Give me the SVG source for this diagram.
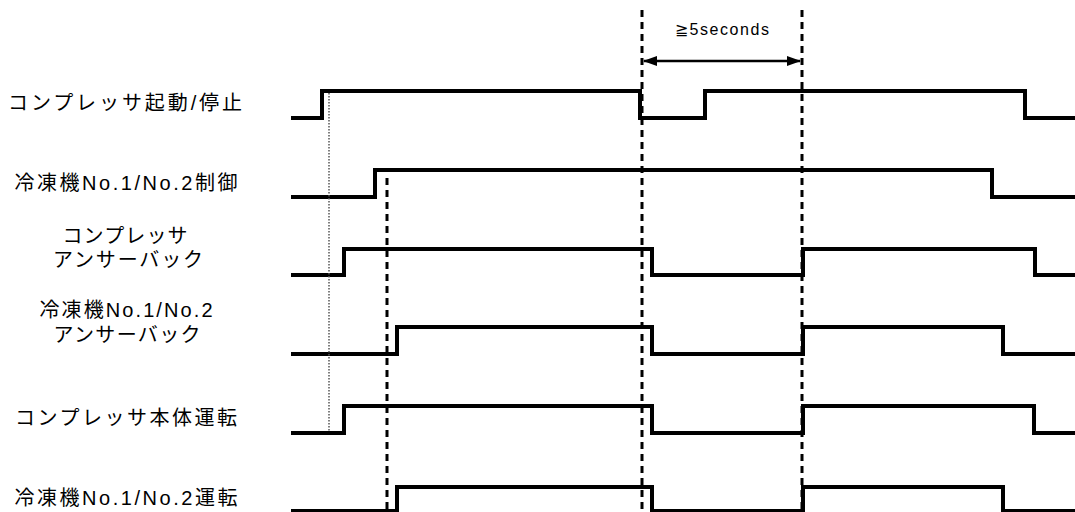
<svg xmlns="http://www.w3.org/2000/svg" width="1075" height="512" viewBox="0 0 1075 512">
<defs>
<style>
.sig{fill:none;stroke:#000;stroke-width:4;stroke-linejoin:miter;stroke-linecap:butt}
.lbl{font-family:"Liberation Sans","Noto Sans CJK JP",sans-serif;font-size:20px;fill:#000;text-anchor:middle}
.dash{stroke:#000;stroke-width:3;stroke-dasharray:7 5;fill:none}
.dot{stroke:#555;stroke-width:1.5;stroke-dasharray:1.5 1.5;fill:none}
</style>
<marker id="ah" viewBox="0 0 14 10" refX="13" refY="5" markerWidth="14" markerHeight="10" markerUnits="userSpaceOnUse" orient="auto-start-reverse">
<path d="M0,0 L14,5 L0,10 Z" fill="#000"/>
</marker>
</defs>
<rect width="1075" height="512" fill="#fff"/>
<g id="label-1"><text class="lbl" x="125" y="110" textLength="234" lengthAdjust="spacing">コンプレッサ起動/停止</text></g>
<g id="label-2"><text class="lbl" x="126" y="190" textLength="223" lengthAdjust="spacing">冷凍機No.1/No.2制御</text></g>
<g id="label-3"><text class="lbl"><tspan x="125" y="243" textLength="125" lengthAdjust="spacing">コンプレッサ</tspan><tspan x="128" y="267" textLength="150" lengthAdjust="spacing">アンサーバック</tspan></text></g>
<g id="label-4"><text class="lbl"><tspan x="126" y="317" textLength="173" lengthAdjust="spacing">冷凍機No.1/No.2</tspan><tspan x="127" y="342" textLength="147" lengthAdjust="spacing">アンサーバック</tspan></text></g>
<g id="label-5"><text class="lbl" x="126" y="425" textLength="222" lengthAdjust="spacing">コンプレッサ本体運転</text></g>
<g id="label-6"><text class="lbl" x="126" y="505" textLength="223" lengthAdjust="spacing">冷凍機No.1/No.2運転</text></g>
<g id="signals">
<path id="s1" class="sig" d="M291,118 H322 V91 H640 V118 H705 V91 H1025 V118 H1075"/>
<path id="s2" class="sig" d="M291,197 H375 V170 H992 V197 H1075"/>
<path id="s3" class="sig" d="M291,275 H344 V249 H652 V275 H803 V249 H1035 V275 H1075"/>
<path id="s4" class="sig" d="M291,354 H397 V327 H652 V354 H803 V327 H1003 V354 H1075"/>
<path id="s5" class="sig" d="M291,433 H344 V406 H652 V433 H803 V406 H1034 V433 H1075"/>
<path id="s6" class="sig" d="M291,511 H397 V487 H652 V511 H803 V487 H1003 V511 H1075"/>
</g>
<g id="connectors">
<line class="dot" x1="329" y1="93" x2="329" y2="432"/>
<line class="dash" x1="387" y1="178" x2="387" y2="512"/>
<line class="dash" x1="642" y1="10" x2="642" y2="512"/>
<line class="dash" x1="802" y1="10" x2="802" y2="512"/>
<line x1="644" y1="61" x2="800" y2="61" stroke="#000" stroke-width="2.5" marker-start="url(#ah)" marker-end="url(#ah)"/>
</g>
<g id="timing-label">
<text x="722" y="35" font-family="Liberation Sans, sans-serif" font-size="16" textLength="94" lengthAdjust="spacing" text-anchor="middle">≧5seconds</text>
</g>
</svg>
